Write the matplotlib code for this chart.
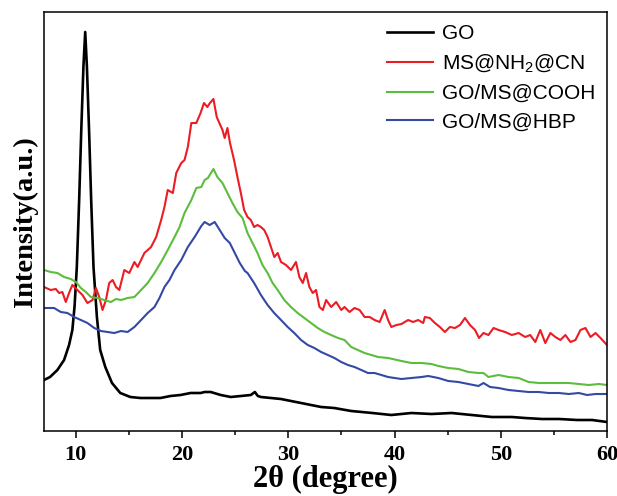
import matplotlib
matplotlib.use("Agg")
import matplotlib.pyplot as plt
from matplotlib.ticker import MultipleLocator

# ---- data (2theta in degrees, intensity in a.u.) ----
go_x = [7.00, 7.57, 8.26, 8.89, 9.36, 9.67, 9.88, 10.09, 10.31, 10.50, 10.71, 10.88,
        11.04, 11.25, 11.44, 11.66, 11.98, 12.29, 12.77, 13.40, 14.18, 15.13, 16.07,
        17.02, 17.96, 18.91, 19.85, 20.80, 21.74, 22.12, 22.69, 23.64, 24.58, 25.53,
        26.47, 26.85, 27.13, 27.42, 28.36, 29.31, 30.25, 31.20, 32.14, 33.09, 34.32,
        35.92, 37.91, 39.70, 41.59, 43.48, 45.37, 47.26, 49.15, 51.04, 52.27, 53.88,
        55.49, 57.19, 58.60, 60.00]
go_y = [51, 54, 61, 71, 86, 101, 125, 164, 231, 298, 364, 399,
        364, 298, 231, 164, 114, 81, 64, 48, 38, 34, 33,
        33, 33, 35, 36, 38, 38, 39, 39, 36, 34, 35,
        36, 39, 35, 34, 33, 32, 30, 28, 26, 24, 23,
        20, 18, 16, 18, 17, 18, 16, 14, 14, 13, 12,
        12, 11, 11, 9]

cn_x = [7.00, 7.63, 8.11, 8.42, 8.73, 9.05, 9.36, 9.67, 10.15, 10.62, 11.09, 11.57,
        11.89, 12.20, 12.51, 12.83, 13.14, 13.46, 13.78, 14.09, 14.56, 15.03, 15.51,
        15.82, 16.45, 17.08, 17.56, 18.03, 18.34, 18.65, 19.13, 19.45, 19.92, 20.23,
        20.54, 20.87, 21.34, 21.74, 22.06, 22.38, 22.62, 22.95, 23.26, 23.47, 23.80,
        24.01, 24.27, 24.51, 24.89, 25.21, 25.53, 25.84, 26.16, 26.47, 26.78, 27.10,
        27.42, 27.73, 28.05, 28.36, 28.68, 29.00, 29.31, 29.78, 30.25, 30.72, 31.04,
        31.36, 31.67, 31.98, 32.30, 32.61, 32.93, 33.25, 33.56, 34.03, 34.50, 34.98,
        35.29, 35.76, 36.23, 36.71, 37.18, 37.65, 38.12, 38.60, 39.07, 39.39, 39.70,
        40.18, 40.65, 41.28, 41.75, 42.23, 42.70, 42.85, 43.32, 43.80, 44.27, 44.74,
        45.21, 45.69, 46.16, 46.63, 47.10, 47.58, 47.95, 48.37, 48.84, 49.32, 49.79,
        50.41, 51.04, 51.68, 52.30, 52.77, 53.25, 53.72, 54.19, 54.67, 55.14, 55.61,
        56.08, 56.56, 57.03, 57.50, 57.97, 58.45, 58.92, 59.39, 60.00]
cn_y = [144, 141, 142, 138, 139, 129, 138, 146, 141, 136, 128, 131,
        143, 134, 121, 131, 148, 151, 144, 141, 161, 158, 169,
        164, 178, 184, 194, 211, 224, 241, 238, 258, 268, 271,
        284, 308, 308, 318, 328, 324, 328, 332, 314, 309, 301,
        293, 303, 288, 271, 254, 238, 221, 214, 211, 204, 206,
        204, 201, 194, 184, 174, 178, 169, 166, 161, 169, 154,
        148, 158, 144, 138, 141, 124, 121, 131, 124, 129, 121,
        124, 119, 123, 121, 114, 114, 111, 109, 121, 111, 104,
        106, 107, 111, 109, 111, 108, 114, 113, 108, 104, 99,
        104, 103, 106, 113, 106, 101, 93, 98, 96, 103, 101,
        99, 96, 98, 94, 96, 89, 101, 88, 98, 94, 91,
        96, 89, 91, 101, 103, 94, 98, 93, 86]

cooh_x = [7.00, 7.63, 8.26, 8.89, 9.52, 10.00, 10.47, 10.94, 11.41, 12.04, 12.67, 13.30,
          13.78, 14.25, 14.87, 15.51, 16.14, 16.76, 17.40, 18.03, 18.65, 19.29, 19.76,
          20.23, 20.87, 21.34, 21.81, 22.12, 22.43, 22.95, 23.32, 23.80, 24.27, 24.74,
          25.21, 25.69, 26.16, 26.63, 27.10, 27.57, 28.05, 28.52, 29.00, 29.62, 30.25,
          30.88, 31.51, 32.14, 32.77, 33.40, 34.03, 34.67, 35.29, 35.92, 36.55, 37.18,
          37.81, 38.45, 39.39, 40.65, 41.59, 42.54, 43.48, 44.12, 45.06, 46.01, 46.95,
          47.90, 48.37, 48.84, 49.79, 50.73, 51.68, 52.62, 53.57, 54.51, 55.46, 56.40,
          57.35, 58.29, 59.24, 60.00]
cooh_y = [161, 159, 158, 154, 152, 149, 143, 139, 134, 133, 131, 129,
          132, 131, 133, 134, 141, 148, 158, 169, 181, 194, 204,
          218, 231, 243, 244, 251, 253, 262, 254, 248, 238, 228,
          219, 213, 198, 188, 178, 166, 158, 148, 141, 131, 124,
          118, 113, 108, 103, 99, 96, 93, 91, 84, 81, 78,
          76, 74, 73, 70, 68, 68, 67, 65, 63, 62, 59,
          58, 58, 54, 56, 54, 53, 49, 48, 48, 48, 48,
          47, 46, 47, 46]

hbp_x = [7.00, 7.95, 8.58, 9.20, 9.84, 10.47, 11.09, 11.73, 12.36, 12.98, 13.62, 14.25,
         14.87, 15.51, 16.14, 16.76, 17.40, 17.87, 18.34, 18.81, 19.29, 19.92, 20.54,
         21.18, 21.81, 22.12, 22.60, 23.07, 23.54, 24.01, 24.49, 24.96, 25.43, 25.91,
         26.16, 26.78, 27.42, 28.05, 28.67, 29.31, 29.94, 30.56, 31.20, 31.83, 32.45,
         33.09, 33.72, 34.34, 34.98, 35.61, 36.23, 36.87, 37.50, 38.12, 38.76, 39.39,
         40.01, 40.65, 41.59, 42.54, 43.17, 44.12, 45.06, 46.01, 46.95, 47.90, 48.37,
         48.99, 49.79, 50.73, 51.68, 52.62, 53.57, 54.51, 55.46, 56.40, 57.35, 58.13,
         58.92, 60.00]
hbp_y = [123, 123, 119, 118, 114, 111, 108, 103, 100, 99, 98, 100,
         99, 104, 111, 118, 124, 133, 144, 151, 161, 171, 184,
         194, 205, 209, 206, 209, 201, 193, 188, 178, 168, 160,
         158, 148, 136, 126, 118, 111, 104, 98, 91, 86, 83,
         79, 76, 73, 69, 66, 64, 61, 58, 58, 56, 54,
         53, 52, 53, 54, 55, 53, 50, 49, 47, 45, 48,
         44, 43, 41, 40, 39, 39, 38, 38, 37, 38, 36,
         37, 37]

labels = ["GO", "MS@NH$_{2}$@CN", "GO/MS@COOH", "GO/MS@HBP"]
colors = ["#000000", "#ec1c24", "#5cbd3c", "#3449a3"]
x_ticks = [10, 20, 30, 40, 50, 60]

plt.rcParams["mathtext.default"] = "regular"

fig = plt.figure(figsize=(6.17, 4.96), dpi=100)
ax = fig.add_axes([44 / 617, 1 - 431 / 496, 563 / 617, 419 / 496])

series = [(go_x, go_y), (cn_x, cn_y), (cooh_x, cooh_y), (hbp_x, hbp_y)]
for (xs, ys), lab, col in zip(series, labels, colors):
    lw = 1.9 if col == "#000000" else 1.5
    ax.plot(xs, ys, color=col, lw=lw, label=lab)

ax.set_xlim(7, 60)
ax.set_ylim(0, 419)
ax.set_xticks(x_ticks)
ax.xaxis.set_minor_locator(MultipleLocator(5))
ax.set_yticks([])
ax.tick_params(axis="x", which="major", direction="out", length=5, width=1.1, pad=5)
ax.tick_params(axis="x", which="minor", direction="out", length=3, width=1.1)
for lab in ax.get_xticklabels():
    lab.set_fontfamily("Liberation Serif")
    lab.set_fontweight("bold")
    lab.set_fontsize(16)
for sp in ax.spines.values():
    sp.set_linewidth(1.1)

ax.set_xlabel("2θ (degree)", fontfamily="Liberation Serif", fontweight="bold",
              fontsize=22, labelpad=0)
ax.set_ylabel("Intensity(a.u.)", fontfamily="Liberation Serif", fontweight="bold",
              fontsize=20.5, labelpad=4)

leg = ax.legend(loc="upper left", bbox_to_anchor=((387 - 44) / 563, 0.971),
                frameon=False, borderpad=0, borderaxespad=0, handlelength=2.2,
                handletextpad=0.45, labelspacing=0.46,
                prop={"family": "Liberation Sans", "size": 15})

fig.savefig("out.png", dpi=100)
